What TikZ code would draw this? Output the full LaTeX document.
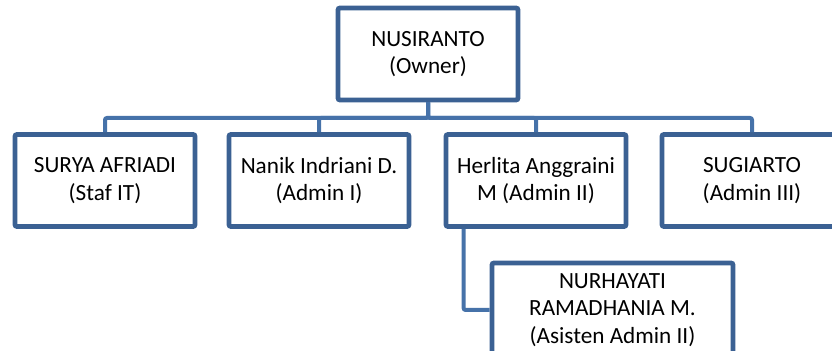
\documentclass[tikz,border=0pt]{standalone}
\usepackage{fontspec}
\setmainfont{Carlito}
\usetikzlibrary{calc,positioning}
\definecolor{kotakbiru}{HTML}{3B6193}
\definecolor{garisbiru}{HTML}{4672A9}
\tikzset{
	kotak/.style={draw=kotakbiru, line width=2.4pt, rounded corners=1pt, fill=white,
		inner sep=0pt, minimum width=90pt, minimum height=46pt, align=center,
		font=\fontsize{11.6}{13.8}\selectfont},
	garis/.style={draw=garisbiru, line width=2pt, rounded corners=1pt}
}
\begin{document}
\begin{tikzpicture}[x=0.5pt,y=-0.5pt]
				\useasboundingbox (0,0) rectangle (832,351);
				\coordinate (bar) at (0,118);
				
				\node[kotak] (owner) at (428,54) {NUSIRANTO\\(Owner)};
				\node[kotak] (surya) at (105,180.5) {SURYA AFRIADI\\(Staf IT)};
				\node[kotak] (nanik) at (319,180.5) {Nanik Indriani D.\\(Admin I)};
				\node[kotak] (herlita) at (536,180.5) {Herlita Anggraini\\M (Admin II)};
				\node[kotak] (sugiarto) at (752,180.5) {SUGIARTO\\(Admin III)};
				\node[kotak, minimum width=120.5pt, minimum height=47pt] (nurhayati) at (612.5,310) {NURHAYATI\\RAMADHANIA M.\\(Asisten Admin II)};
				
				% garis dari owner ke staf
				\foreach \staf in {surya,nanik,herlita,sugiarto}
				\draw[garis] (owner.south) -- (owner.south |- bar) -| (\staf.north);
				\draw[garis] ([xshift=10pt]herlita.south west) |- (nurhayati.west);
\end{tikzpicture}
\end{document}
